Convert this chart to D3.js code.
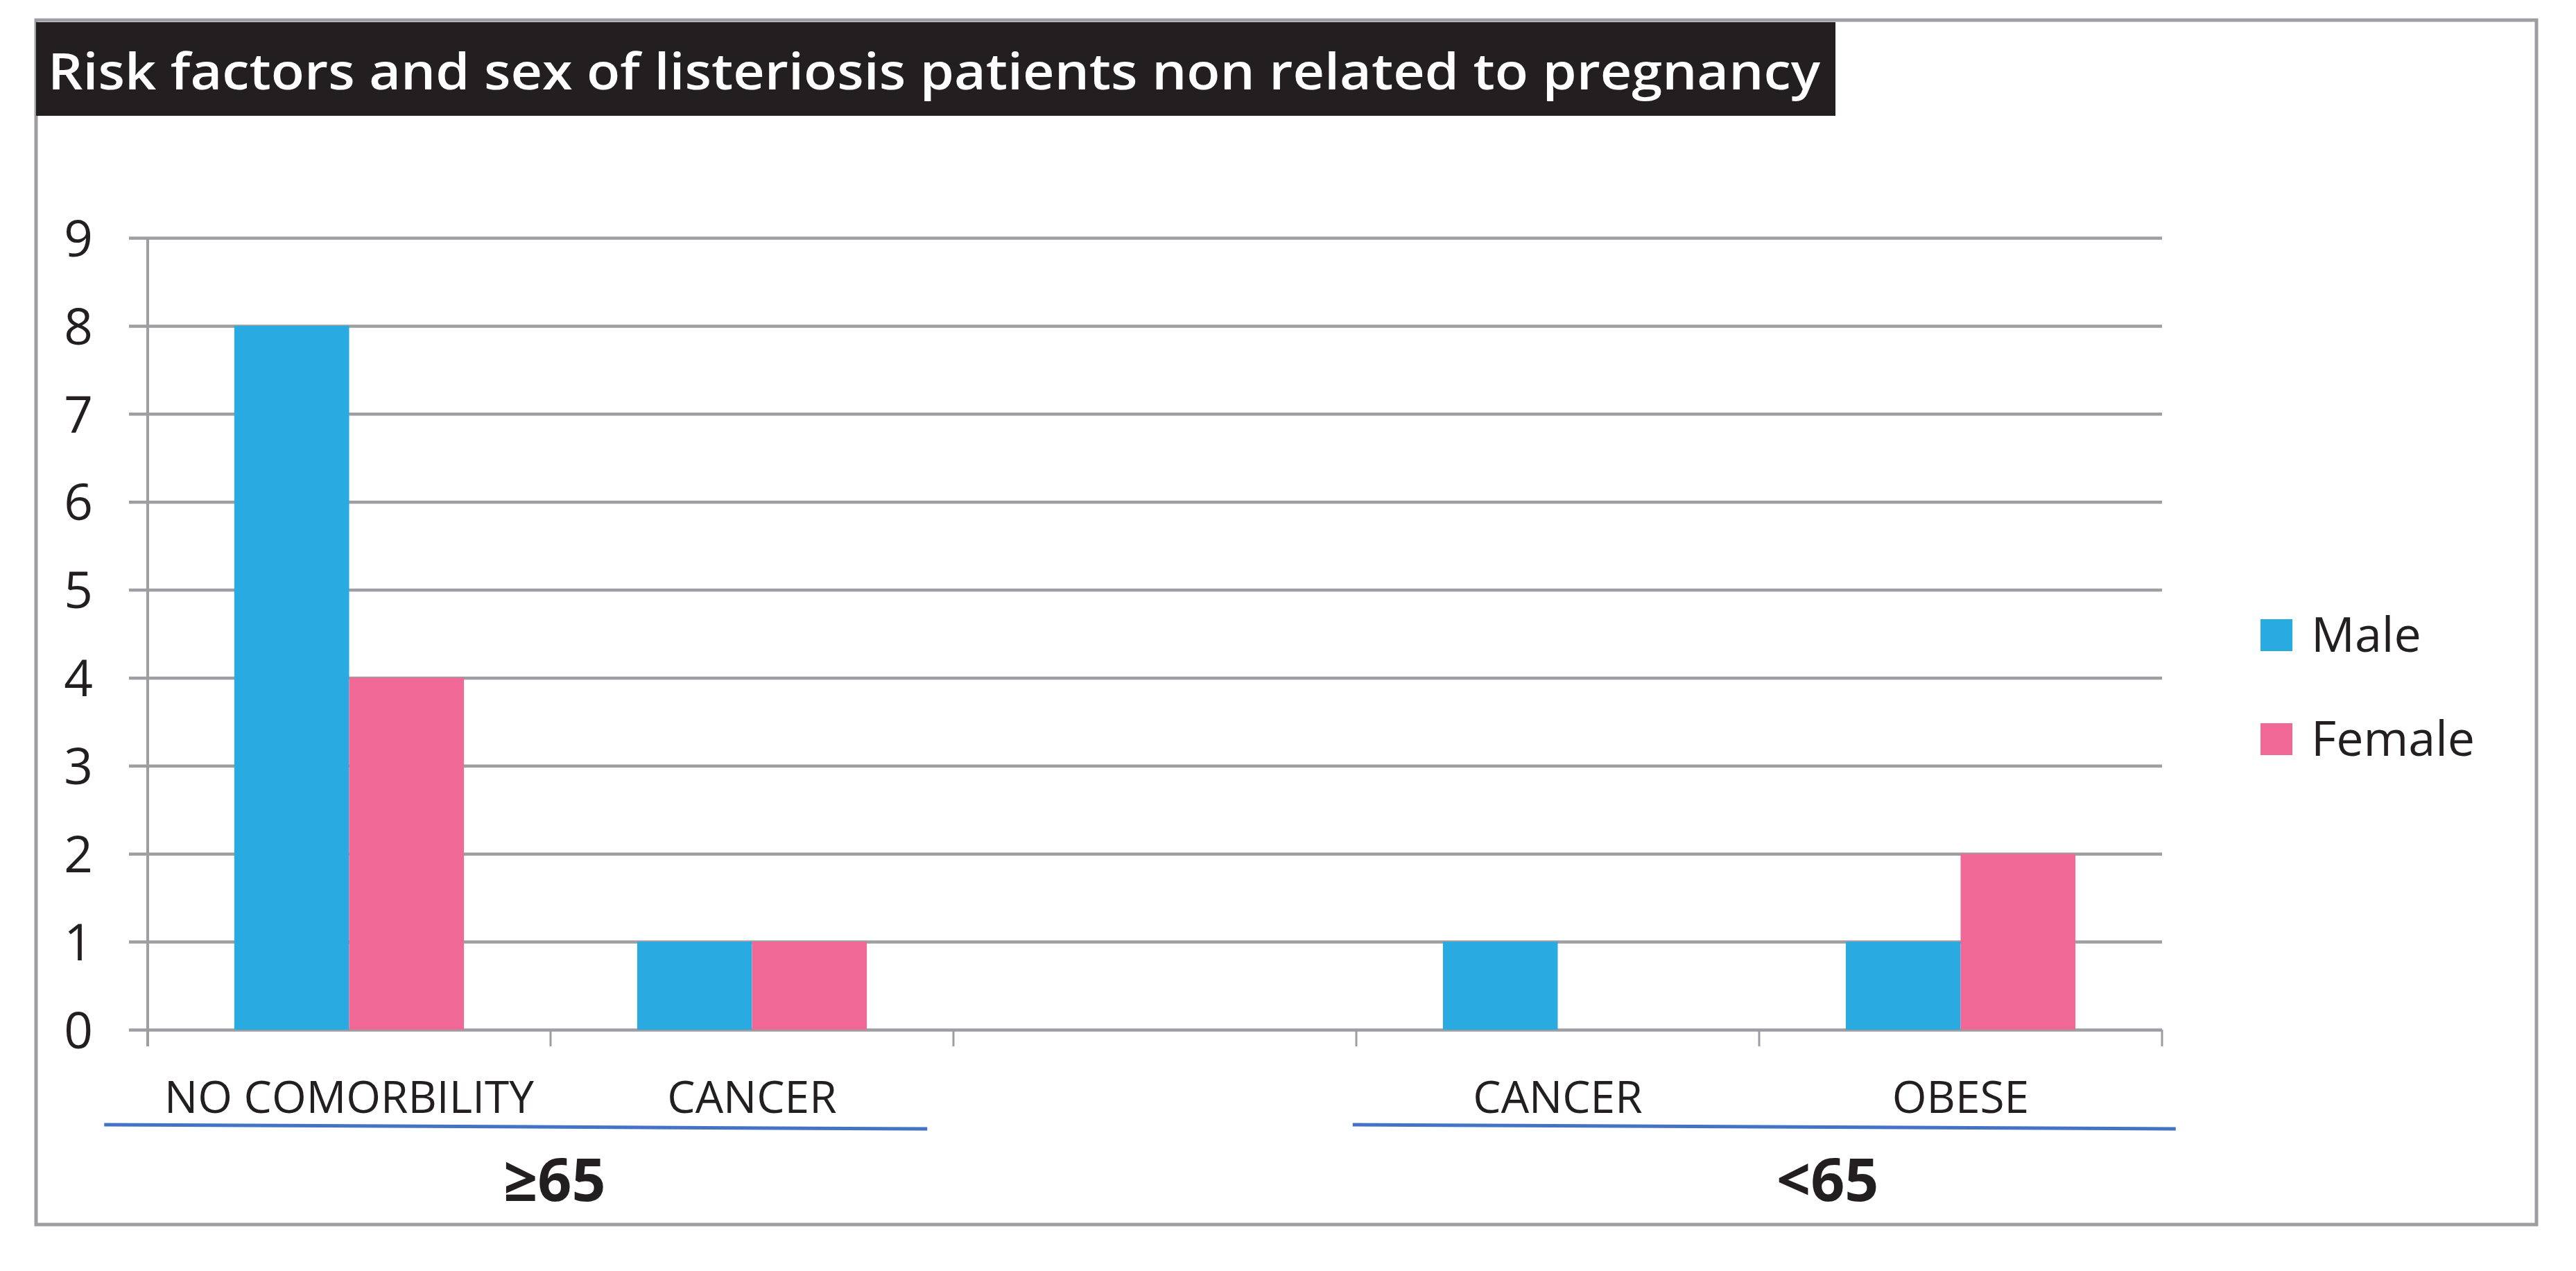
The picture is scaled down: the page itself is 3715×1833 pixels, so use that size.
<!DOCTYPE html>
<html>
<head>
<meta charset="utf-8">
<script src="https://cdn.jsdelivr.net/npm/d3@7"></script>
<style>
  html, body { margin: 0; padding: 0; background: #ffffff; }
  svg { display: block; }
</style>
</head>
<body>
<script>
// ---------------- data ----------------
const categories = ["NO COMORBILITY", "CANCER", "", "CANCER", "OBESE"];
const seriesNames = ["Male", "Female"];
const maleValues = [8, 1, null, 1, 1];
const femaleValues = [4, 1, null, 0, 2];
const yTickValues = [0, 1, 2, 3, 4, 5, 6, 7, 8, 9];
const groupLabels = ["≥65", "<65"];
const titleText = "Risk factors and sex of listeriosis patients non related to pregnancy";

// ---------------- layout ----------------
const W = 3715, H = 1833;
const plot = { left: 213, right: 3118, top: 343, bottom: 1485 };
const colors = { Male: "#29ABE2", Female: "#EF6896" };
const gridColor = "#9D9EA2";
const textColor = "#231F20";
const FONT = "'Open Sans', 'Noto Sans', sans-serif";

const svg = d3.select("body").append("svg").attr("width", W).attr("height", H);

// outer frame
svg.append("rect")
  .attr("x", 52).attr("y", 29).attr("width", 3606).attr("height", 1737)
  .attr("fill", "none").attr("stroke", gridColor).attr("stroke-width", 5);

// title box
svg.append("rect").attr("x", 52).attr("y", 32).attr("width", 2595).attr("height", 135).attr("fill", "#231F20");
svg.append("text")
  .attr("x", 69).attr("y", 129)
  .attr("fill", "#ffffff")
  .attr("font-family", FONT).attr("font-weight", 600)
  .attr("font-size", 73)
  .attr("textLength", 2556).attr("lengthAdjust", "spacingAndGlyphs")
  .text(titleText);

// scales
const x0 = d3.scaleBand().domain(d3.range(categories.length)).range([plot.left, plot.right]).padding(0);
const bw = x0.bandwidth();
const x1 = d3.scaleBand().domain(seriesNames).range([bw * 0.215, bw * 0.785]).padding(0);
const y = d3.scaleLinear().domain([0, 9]).range([plot.bottom, plot.top]);

// gridlines
const gGrid = svg.append("g").attr("transform", `translate(${plot.right},0)`)
  .call(d3.axisLeft(y).tickValues(yTickValues).tickSize(plot.right - plot.left + 27).tickFormat(""));
gGrid.select(".domain").remove();
gGrid.selectAll(".tick line").attr("stroke", gridColor).attr("stroke-width", 4.5);

// y tick labels
const gY = svg.append("g").attr("transform", `translate(${plot.left},0)`)
  .call(d3.axisLeft(y).tickValues(yTickValues).tickSize(0).tickPadding(79));
gY.select(".domain").remove();
gY.selectAll(".tick text")
  .attr("font-family", FONT).attr("font-size", 73).attr("fill", textColor).attr("dy", "0.36em");

// vertical axis line
svg.append("line")
  .attr("x1", plot.left).attr("x2", plot.left)
  .attr("y1", y(9)).attr("y2", plot.bottom + 24)
  .attr("stroke", gridColor).attr("stroke-width", 4);

// category boundary ticks
const boundaries = d3.range(categories.length + 1).map(i => plot.left + i * x0.step());
svg.append("g").selectAll("line").data(boundaries).join("line")
  .attr("x1", d => d).attr("x2", d => d)
  .attr("y1", plot.bottom).attr("y2", plot.bottom + 24)
  .attr("stroke", gridColor).attr("stroke-width", 3);

// bars
const rows = categories.map((c, i) => ({ i, Male: maleValues[i], Female: femaleValues[i] }));
const gBars = svg.append("g");
rows.forEach(r => {
  seriesNames.forEach(s => {
    const v = r[s];
    if (v == null || v === 0) return;
    gBars.append("rect")
      .attr("x", x0(r.i) + x1(s))
      .attr("width", x1.bandwidth())
      .attr("y", y(v))
      .attr("height", y(0) - y(v))
      .attr("fill", colors[s]);
  });
});

// category labels
svg.append("g").selectAll("text").data(categories).join("text")
  .attr("x", (d, i) => x0(i) + bw / 2)
  .attr("y", 1605)
  .attr("text-anchor", "middle")
  .attr("font-family", FONT).attr("font-size", 64).attr("fill", textColor)
  .text(d => d);

// group underlines (hand-drawn style, slightly sloped)
const underlineSpan = [[-0.108, 1.935], [2.991, 5.034]];
svg.append("g").selectAll("line").data(underlineSpan).join("line")
  .attr("x1", d => plot.left + d[0] * x0.step())
  .attr("x2", d => plot.left + d[1] * x0.step())
  .attr("y1", 1622).attr("y2", 1628)
  .attr("stroke", "#4472C4").attr("stroke-width", 5);

// group labels
const groupLabelPos = [1.01, 4.17];
svg.append("g").selectAll("text").data(groupLabels).join("text")
  .attr("x", (d, i) => plot.left + groupLabelPos[i] * x0.step())
  .attr("y", 1732)
  .attr("text-anchor", "middle")
  .attr("font-family", FONT).attr("font-weight", 700).attr("font-size", 86).attr("fill", textColor)
  .text(d => d);

// legend
const legend = svg.append("g");
seriesNames.forEach((s, i) => {
  const cy = 916 + i * 150;
  legend.append("rect").attr("x", 3260).attr("y", cy - 23).attr("width", 46).attr("height", 46).attr("fill", colors[s]);
  legend.append("text").attr("x", 3333).attr("y", cy + 24)
    .attr("font-family", FONT).attr("font-size", 70).attr("fill", textColor).text(s);
});
</script>
</body>
</html>
